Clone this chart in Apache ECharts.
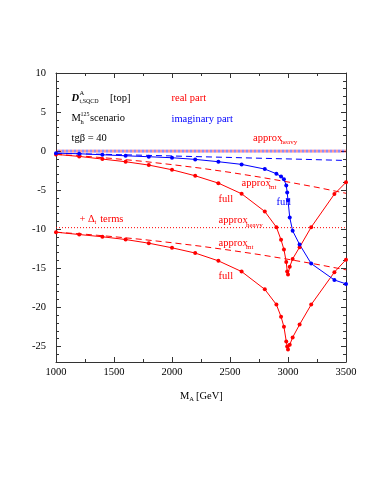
<!DOCTYPE html>
<html><head><meta charset="utf-8">
<script src="https://cdn.jsdelivr.net/npm/echarts@6/dist/echarts.min.js"></script>
<style>html,body{margin:0;padding:0;background:#fff}#c{width:383px;height:495px}</style>
</head><body><div id="c"></div>
<script>
// ---- data ----
const massFull = [1000,1200,1400,1600,1800,2000,2200,2400,2600,2800,2900,2940,2965,2985,2993,3000,3015,3040,3100,3200,3400,3500];
const realFull = [-0.42,-0.68,-1.02,-1.36,-1.79,-2.39,-3.16,-4.1,-5.46,-7.73,-9.74,-11.36,-12.6,-14.2,-15.4,-15.8,-14.8,-13.8,-12.3,-9.74,-5.5,-4.0];
const realFullDt = [-10.38,-10.68,-10.97,-11.32,-11.79,-12.38,-13.05,-14.05,-15.42,-17.7,-19.65,-21.2,-22.5,-24.36,-25.0,-25.4,-24.8,-23.85,-22.2,-19.65,-15.5,-13.9];
const imagFull = [-0.26,-0.34,-0.47,-0.6,-0.72,-0.85,-1.06,-1.36,-1.7,-2.3,-2.9,-3.24,-3.6,-4.4,-5.3,-6.3,-8.5,-10.2,-11.96,-14.4,-16.5,-17.0];

const massApprox = [1000,1250,1500,1750,2000,2250,2500,2750,3000,3250,3500];
const realApproxMt = [-0.42,-0.66,-0.96,-1.31,-1.73,-2.19,-2.72,-3.31,-3.95,-4.64,-5.4];
const realApproxMtDt = [-10.38,-10.64,-10.96,-11.32,-11.73,-12.18,-12.69,-13.24,-13.85,-14.5,-15.2];
const imagApproxMt = [-0.28,-0.36,-0.44,-0.53,-0.62,-0.72,-0.81,-0.91,-1.0,-1.1,-1.2];

const massHeavy = [1000,3500];
const realApproxHeavy = [0,0];
const imagApproxHeavy = [0,0];
const realApproxHeavyDt = [-9.8,-9.8];

const xTicks = [1000,1500,2000,2500,3000,3500];
const yMajorTicks = [-25,-20,-15,-10,-5,0,5,10];
const yMinorTicks = [];
for (let v = -27; v <= 10; v++) yMinorTicks.push(v);

// ---- chart ----
const RED = '#ff0000', BLUE = '#0000ff', AX = '#333';
const FONT = 'Liberation Serif';
function pts(xs, ys) { return xs.map((x, i) => [x, ys[i]]); }

const chart = echarts.init(document.getElementById('c'), null, {renderer: 'canvas'});

function xAx(pos, showLabel) {
  return {
    type: 'value', min: 1000, max: 3500, interval: 500, position: pos,
    axisLine: {show: true, onZero: false, lineStyle: {color: AX, width: 1}},
    axisTick: {show: true, inside: true, length: 5, lineStyle: {color: AX}},
    minorTick: {show: true, splitNumber: 2, length: 3, lineStyle: {color: AX}},
    splitLine: {show: false}, minorSplitLine: {show: false},
    axisLabel: {show: showLabel, color: '#000', fontFamily: FONT, fontSize: 10.5, margin: 5, formatter: v => String(v)}
  };
}
function yAx(pos, major, showLine) {
  return {
    type: 'value', min: -27, max: 10, position: pos,
    axisLine: {show: showLine, onZero: false, lineStyle: {color: AX, width: 1}},
    axisTick: {show: true, inside: true, length: major ? 5 : 3, customValues: major ? yMajorTicks : yMinorTicks, lineStyle: {color: AX}},
    splitLine: {show: false},
    axisLabel: {show: major && pos === 'left', customValues: yMajorTicks, color: '#000', fontFamily: FONT, fontSize: 10.5, margin: 10, formatter: v => String(v)}
  };
}

const series = [
  {name: 'imag heavy', data: pts(massHeavy, imagApproxHeavy), color: BLUE, lineStyle: {color: BLUE, type: [2, 2], dashOffset: 2, width: 3, opacity: 0.45}},
  {name: 'real heavy', data: pts(massHeavy, realApproxHeavy), color: RED, lineStyle: {color: RED, type: [2, 2], width: 3, opacity: 0.4}},
  {name: 'real heavy dt', data: pts(massHeavy, realApproxHeavyDt), color: RED, lineStyle: {color: RED, type: [1, 2], width: 1}},
  {name: 'imag mt', data: pts(massApprox, imagApproxMt), color: BLUE, lineStyle: {color: BLUE, type: [6, 4], width: 1}},
  {name: 'real mt', data: pts(massApprox, realApproxMt), color: RED, lineStyle: {color: RED, type: [6, 4], width: 1}},
  {name: 'real mt dt', data: pts(massApprox, realApproxMtDt), color: RED, lineStyle: {color: RED, type: [6, 4], width: 1}},
  {name: 'real full', data: pts(massFull, realFull), color: RED, symbol: 'circle', symbolSize: 4, lineStyle: {color: RED, width: 1}},
  {name: 'real full dt', data: pts(massFull, realFullDt), color: RED, symbol: 'circle', symbolSize: 4, lineStyle: {color: RED, width: 1}},
  {name: 'imag full', data: pts(massFull, imagFull), color: BLUE, symbol: 'circle', symbolSize: 4, lineStyle: {color: BLUE, width: 1}}
].map(s => Object.assign({type: 'line', xAxisIndex: 0, yAxisIndex: 0, symbol: 'none', showSymbol: !!s.symbol && s.symbol !== 'none', smooth: false, silent: true, clip: true, itemStyle: {color: s.color}}, s));

function txt(x, y, text, opt) {
  opt = opt || {};
  return {type: 'text', x: x, y: y, silent: true, z: 100,
    style: {text: text, fill: opt.color || '#000', font: (opt.style || '') + ' ' + (opt.size || 10.5) + 'px "' + FONT + '"', verticalAlign: 'middle', align: 'left'}};
}

const graphics = [
  txt(71.5, 98.5, 'D', {style: 'italic bold', size: 10.5}),
  txt(79.5, 93.5, 'A', {size: 6.5}),
  txt(79.5, 101.5, 't,SQCD', {size: 6}),
  txt(110, 98.5, '[top]'),
  txt(171.5, 98.5, 'real part', {color: RED}),
  txt(71.5, 118.5, 'M'),
  txt(80.5, 114.5, '125', {size: 6}),
  txt(80.5, 122, 'h', {size: 6.5}),
  txt(90, 118.5, 'scenario'),
  txt(171.5, 119.5, 'imaginary part', {color: BLUE}),
  txt(71.5, 138.5, 'tg\u03B2 = 40'),
  txt(253, 138.5, 'approx', {color: RED}),
  txt(280.5, 142.5, 'heavy', {color: RED, size: 7}),
  txt(241.5, 183, 'approx', {color: RED}),
  txt(269, 187.5, 'mt', {color: RED, size: 7}),
  txt(218.5, 199, 'full', {color: RED}),
  txt(276.5, 202, 'full', {color: BLUE}),
  txt(218.5, 220.5, 'approx', {color: RED}),
  txt(246, 225, 'heavy', {color: RED, size: 7}),
  txt(218.5, 243, 'approx', {color: RED}),
  txt(246, 247.5, 'mt', {color: RED, size: 7}),
  txt(218.5, 276.5, 'full', {color: RED}),
  txt(79.5, 219, '+ \u0394', {color: RED}),
  txt(94.5, 222, 't', {color: RED, size: 6.5}),
  txt(97.5, 219, ' terms', {color: RED}),
  txt(180, 396.5, 'M'),
  txt(189.3, 399.5, 'A', {size: 6.5}),
  txt(196, 396.5, '[GeV]')
];

chart.setOption({
  animation: false,
  backgroundColor: '#fff',
  grid: {left: 56, top: 73, width: 290, height: 289, containLabel: false},
  xAxis: [xAx('bottom', true), xAx('top', false)],
  yAxis: [yAx('left', true, true), yAx('right', true, true), yAx('left', false, false), yAx('right', false, false)],
  series: series,
  graphic: graphics
});
</script></body></html>
